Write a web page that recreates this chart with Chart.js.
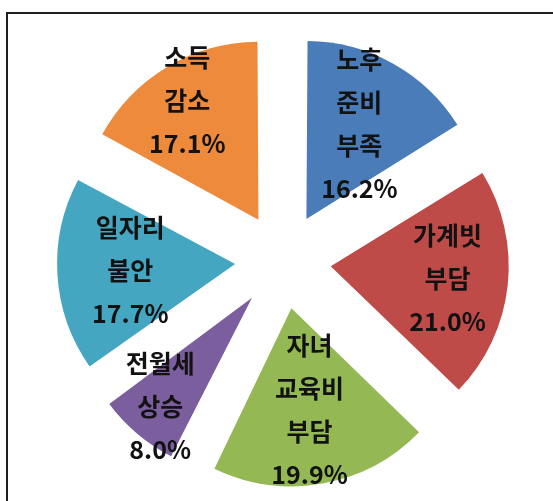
<!DOCTYPE html>
<html><head><meta charset="utf-8">
<script src="https://cdn.jsdelivr.net/npm/chart.js@4.4.1/dist/chart.umd.min.js"></script>
<style>
html,body{margin:0;padding:0;background:#fff;overflow:hidden}
#wrap{position:relative;width:553px;height:501px;overflow:hidden}
#frame{position:absolute;left:6px;top:12px;width:700px;height:700px;border-top:2px solid #1e1e1e;border-left:2px solid #1e1e1e;box-sizing:border-box}
canvas{position:absolute;left:0;top:0}
</style></head><body>
<div id="wrap"><div id="frame"></div><canvas id="c" width="553" height="501"></canvas></div>
<script>
// categories (clockwise from 12 o'clock), one line per word
const categories = ['노후 준비 부족', '가계빗 부담', '자녀 교육비 부담', '전월세 상승', '일자리 불안', '소득 감소'];
// share of responses, %
const shares = [16.2, 21.0, 19.9, 8.0, 17.7, 17.1];
const colors = ['#4A7CBA', '#BE4B48', '#94B853', '#7A5E9E', '#45A6C2', '#EE8A3C'];

const sliceLabels = {
  id: 'sliceLabels',
  beforeDatasetsDraw(chart) {
    // keep every exploded slice at the same outer radius
    const meta = chart.getDatasetMeta(0);
    const R = meta.controller.outerRadius;
    meta.data.forEach(el => {
      const off = (el.options.offset || 0) / 4;
      const fix = 1 - Math.sin(Math.min(Math.PI, el.circumference));
      el.outerRadius = R - off * fix;
    });
  },
  afterDatasetsDraw(chart, args, opts) {
    const meta = chart.getDatasetMeta(0);
    const R = meta.controller.outerRadius;
    const ctx = chart.ctx;
    ctx.save();
    ctx.font = opts.font;
    ctx.fillStyle = opts.color;
    ctx.textAlign = 'center';
    ctx.textBaseline = 'middle';
    meta.data.forEach((el, i) => {
      const mid = (el.startAngle + el.endAngle) / 2;
      const off = (el.options.offset || 0) / 4;
      const r = off + opts.radial[i] * R;
      const cx = el.x + Math.cos(mid) * r;
      const cy = el.y + Math.sin(mid) * r;
      const lines = chart.data.labels[i].split(' ').concat([chart.data.datasets[0].data[i].toFixed(1) + '%']);
      lines.forEach((t, k) => ctx.fillText(t, cx, cy + (k - (lines.length - 1) / 2) * opts.lineHeight));
    });
    ctx.restore();
  }
};

new Chart(document.getElementById('c'), {
  type: 'pie',
  data: {
    labels: categories,
    datasets: [{
      data: shares,
      backgroundColor: colors,
      borderWidth: 0,
      offset: 192,
      hoverOffset: 192
    }]
  },
  options: {
    responsive: false,
    animation: false,
    events: [],
    radius: 178,
    layout: { padding: { left: 13, right: 0, top: 21, bottom: 0 } },
    plugins: {
      legend: { display: false },
      tooltip: { enabled: false },
      sliceLabels: {
        font: 'bold 25px "Noto Sans CJK KR", "Noto Sans", sans-serif',
        color: '#121212',
        lineHeight: 43,
        radial: [0.61, 0.66, 0.58, 0.80, 0.59, 0.78]
      }
    }
  },
  plugins: [sliceLabels]
});
</script>
</body></html>
